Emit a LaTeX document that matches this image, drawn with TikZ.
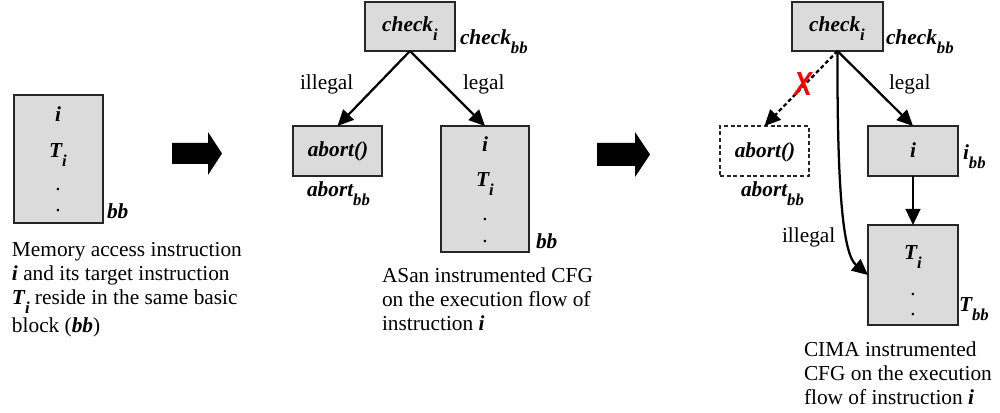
\documentclass[tikz,border=0pt]{standalone}
\usepackage{fontspec}
\setmainfont{Liberation Serif}
\setsansfont{Liberation Sans}
\usetikzlibrary{arrows.meta}
\newdimen\px \px=0.75pt
\newcommand{\lsub}[2]{#1\raisebox{-0.42em}{\fontsize{12.5pt}{12.5pt}\selectfont #2}}
\newcommand{\bi}{\bfseries\itshape}
\begin{document}
\begin{tikzpicture}[x=0.75pt,y=-0.75pt,
  every node/.style={font=\fontsize{16pt}{18pt}\selectfont, inner sep=0pt, outer sep=0pt},
  box/.style={draw=black!85, line width=1.6pt, fill=black!14, anchor=north west},
  dbox/.style={draw=black!85, line width=1.6pt, dash pattern=on 3pt off 2pt, anchor=north west},
  arr/.style={line width=1.7pt, -{Triangle[length=12pt,width=11pt]}},
  darr/.style={arr, dash pattern=on 3pt off 2pt},
  captext/.style={anchor=north west, align=left},
  bigarrow/.style={fill=black}]
\useasboundingbox (0,0) rectangle (1000,413);

% ---------- left: single basic block ----------
\node[box, minimum width=89\px, minimum height=128\px] (lb) at (14,95) {};
\node[anchor=base] (lbi) at (58,122) {\bi i};
\node[anchor=base] (lbt) at (58,158) {\bi\lsub{T}{i}};
\node (lbd1) at (58,190) {.};
\node (lbd2) at (58,211) {.};
\node[anchor=base west] (lbbb) at (107,219) {\bi bb};
\node[captext] (lcap) at (12,240) {\strut Memory access instruction\\
  {\bi i} and its target instruction\\
  {\bi\lsub{T}{i}} reside in the same basic\\[3pt]
  block ({\bi bb})};

\fill[bigarrow] (172,143) -- (208,143) -- (208,132) -- (222,153.5) -- (208,175) -- (208,164) -- (172,164) -- cycle;

% ---------- middle: ASan ----------
\node[box, minimum width=90\px, minimum height=49\px] (ck1) at (365,2) {};
\node[anchor=base] (ck1t) at (410,32) {\bi\lsub{check}{i}};
\node[anchor=base west] (ck1bb) at (460,45) {\bi\lsub{check}{bb}};
\node[box, minimum width=89\px, minimum height=50\px] (ab1) at (293,126) {};
\node[anchor=base] (ab1t) at (338,157) {\bi abort()};
\node[anchor=base west] (ab1bb) at (307,197) {\bi\lsub{abort}{bb}};
\node[box, minimum width=88\px, minimum height=126\px] (mb) at (441,126) {};
\node[anchor=base] (mbi) at (485,152) {\bi i};
\node[anchor=base] (mbt) at (485,187) {\bi\lsub{T}{i}};
\node (mbd1) at (485,220) {.};
\node (mbd2) at (485,242) {.};
\node[anchor=base west] (mbbb) at (536,249) {\bi bb};
\draw[arr] (ck1.south) -- (ab1.north);
\draw[arr] (ck1.south) -- (mb.north);
\node[anchor=base west] (il1) at (300,90) {illegal};
\node[anchor=base west] (lg1) at (463,90) {legal};
\node[captext] (mcap) at (382,266) {\strut ASan instrumented CFG\\
  on the execution flow of\\
  instruction {\bi i}};

\fill[bigarrow] (597,143) -- (635,143) -- (635,132) -- (650,154.5) -- (635,177) -- (635,166) -- (597,166) -- cycle;

% ---------- right: CIMA ----------
\node[box, minimum width=91\px, minimum height=49\px] (ck2) at (792,2) {};
\node[anchor=base] (ck2t) at (837,32) {\bi\lsub{check}{i}};
\node[anchor=base west] (ck2bb) at (886,45) {\bi\lsub{check}{bb}};
\node[dbox, minimum width=89\px, minimum height=50\px] (ab2) at (720,126) {};
\node[anchor=base] (ab2t) at (765,158) {\bi abort()};
\node[anchor=base west] (ab2bb) at (741,197) {\bi\lsub{abort}{bb}};
\node[box, minimum width=90\px, minimum height=50\px] (ib) at (868,126) {};
\node[anchor=base] (ibt) at (913,158) {\bi i};
\node[anchor=base west] (ibbb) at (963,160) {\bi\lsub{i}{bb}};
\node[box, minimum width=90\px, minimum height=100\px] (tb) at (868,225) {};
\node[anchor=base] (tbt) at (913,260) {\bi\lsub{T}{i}};
\node (tbd1) at (913,295) {.};
\node (tbd2) at (913,315) {.};
\node[anchor=base west] (tbbb) at (959,312) {\bi\lsub{T}{bb}};
\draw[darr] (ck2.south) -- (ab2.north);
\draw[arr] (ck2.south) -- (ib.north);
\draw[arr] (ib.south) -- (tb.north);
\draw[arr] (ck2.south) .. controls (837,200) and (844,255) .. (tb.west);
\node[text=red, xscale=0.8, font=\sffamily\bfseries\itshape\fontsize{25pt}{25pt}\selectfont] (rx) at (803,84) {X};
\node[anchor=base west] (lg2) at (889,90) {legal};
\node[anchor=base west] (il2) at (782,243) {illegal};
\node[captext] (rcap) at (804,340) {\strut CIMA instrumented\\
  CFG on the execution\\
  flow of instruction {\bi i}};
\end{tikzpicture}
\end{document}
